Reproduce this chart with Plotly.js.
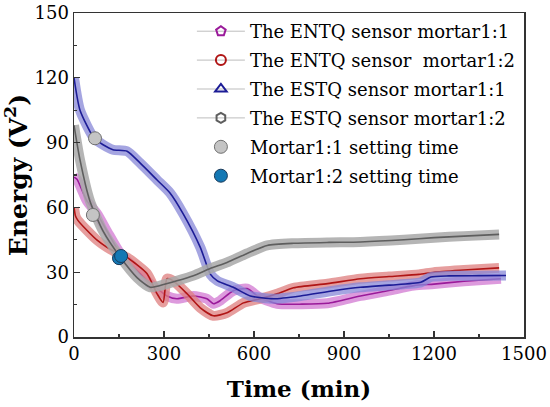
<!DOCTYPE html>
<html>
<head>
<meta charset="utf-8">
<script src="https://cdn.plot.ly/plotly-3.0.1.min.js"></script>
<style>html,body{margin:0;padding:0;background:#fff;}#chart{width:550px;height:407px;}</style>
</head>
<body>
<div id="chart"></div>
<script>
// ENTQ sensor mortar 1:1
var entq11_t = [0,10,43,77,110,154,210,254,287,310,343,398,443,465,487,531,577,620,677,760,845,955,1050,1133,1200,1300,1423];
var entq11_v = [74,73,63,57,49,38.7,30.8,24.7,21.4,19,17.7,19,17.7,15.4,16.8,21.4,22.4,18.2,15.4,15.2,15.6,19,21.5,23.8,24.5,25.8,27];
// ENTQ sensor mortar 1:2
var entq12_t = [0,5,13,43,77,110,143,177,243,277,297,310,331,377,421,465,510,565,620,677,732,845,955,1050,1150,1200,1300,1417];
var entq12_v = [60,56,54,49.4,44.8,41.5,39,36.8,29.4,20,16,27,26,20,13.5,9.8,11.2,15.8,17.7,20,22.8,24.7,27,28,29,30,31,32];
// ESTQ sensor mortar 1:1
var estq11_t = [0,20,67,97,130,177,220,277,320,364,421,455,478,531,588,665,755,865,955,1050,1156,1190,1250,1350,1440];
var estq11_v = [120,105,92,89,86.7,86,80.6,72.7,66.7,57,41.5,29,26,23,19,17.7,19,21.4,23,24,25.3,27.8,28.3,28.4,28.5];
// ESTQ sensor mortar 1:2
var estq12_t = [0,20,53,97,154,210,254,287,343,398,454,510,577,644,732,850,955,1100,1200,1300,1417];
var estq12_v = [98,82,63,49,37,27.5,23,23.8,26,28.4,31.7,34.5,38.7,42.4,43.4,43.8,44,45,46,46.7,47.5];
// setting times
var set11_t = [70,63];
var set11_v = [92,56.5];
var set12_t = [150,157];
var set12_v = [36.5,37.5];

var names = ['The ENTQ sensor mortar1:1','The ENTQ sensor  mortar1:2','The ESTQ sensor mortar1:1','The ESTQ sensor mortar1:2'];
var series = [
  {t:entq11_t, v:entq11_v, dark:'#9A1A9A', band:'rgba(210,120,210,0.75)', sym:'pentagon-open'},
  {t:entq12_t, v:entq12_v, dark:'#B01515', band:'rgba(222,125,125,0.75)', sym:'circle-open'},
  {t:estq11_t, v:estq11_v, dark:'#1C1C96', band:'rgba(135,135,215,0.75)', sym:'triangle-up-open'},
  {t:estq12_t, v:estq12_v, dark:'#5E5E5E', band:'rgba(168,168,168,0.85)', sym:'hexagon-open'}
];
var traces = [];
series.forEach(function(s){
  traces.push({x:s.t, y:s.v, mode:'lines', showlegend:false, hoverinfo:'skip',
    line:{color:s.band, width:10, shape:'spline', smoothing:0.6}});
  traces.push({x:s.t, y:s.v, mode:'lines', showlegend:false,
    line:{color:s.dark, width:1.6, shape:'spline', smoothing:0.6}});
});
series.forEach(function(s,i){
  traces.push({x:[null], y:[null], mode:'lines+markers', name:names[i], legendgroup:'g'+i,
    line:{color:'#BDBDBD', width:1},
    marker:{symbol:s.sym, size:10, color:s.dark, line:{width:2, color:s.dark}}});
});
traces.push({x:set11_t, y:set11_v, mode:'markers', name:'Mortar1:1 setting time', legendgroup:'g4',
  marker:{symbol:'circle', size:13, color:'#C4C4C4', line:{width:1, color:'#707070'}}});
traces.push({x:set12_t, y:set12_v, mode:'markers', name:'Mortar1:2 setting time', legendgroup:'g5',
  marker:{symbol:'circle', size:13, color:'#1478B4', line:{width:1, color:'#1A3A5A'}}});

var fontFam = "DejaVu Serif";
var layout = {
  width:550, height:407,
  margin:{l:74, r:26, t:13, b:70},
  paper_bgcolor:'#fff', plot_bgcolor:'#fff',
  font:{family:fontFam, size:18, color:'#000'},
  xaxis:{range:[0,1500], dtick:300, tick0:0, ticks:'inside', ticklen:6, tickwidth:1.2, tickcolor:'#333',
    minor:{dtick:150, ticks:'inside', ticklen:3, tickcolor:'#333'},
    showline:true, linecolor:'#333', linewidth:1.5, mirror:true, showgrid:false, zeroline:false,
    tickfont:{family:fontFam, size:18, color:'#000'},
    title:{text:'<b>Time (min)</b>', font:{family:fontFam, size:23, color:'#000'}, standoff:18}},
  yaxis:{range:[0,150], dtick:30, tick0:0, ticks:'inside', ticklen:6, tickwidth:1.2, tickcolor:'#333',
    minor:{dtick:15, ticks:'inside', ticklen:3, tickcolor:'#333'},
    showline:true, linecolor:'#333', linewidth:1.5, mirror:true, showgrid:false, zeroline:false,
    tickfont:{family:fontFam, size:18, color:'#000'},
    title:{text:'<b>Energy (V<sup>2</sup>)</b>', font:{family:fontFam, size:25, color:'#000'}, standoff:8}},
  legend:{x:0.262, y:1.0, xanchor:'left', yanchor:'top', bgcolor:'rgba(0,0,0,0)',
    font:{family:fontFam, size:18, color:'#000'}, tracegroupgap:2.5, itemwidth:48},
  showlegend:true
};
Plotly.newPlot('chart', traces, layout, {staticPlot:true, displayModeBar:false});
</script>
</body>
</html>
